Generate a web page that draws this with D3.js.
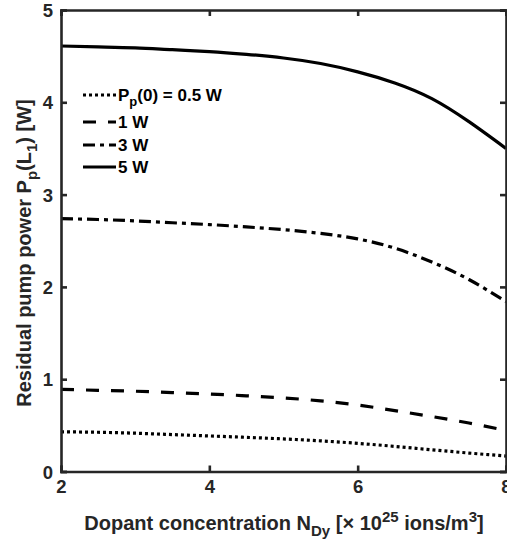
<!DOCTYPE html>
<html><head><meta charset="utf-8">
<script src="https://cdn.jsdelivr.net/npm/d3@7"></script>
<style>
html,body{margin:0;padding:0;background:#fff;overflow:hidden}
text{font-family:"Liberation Sans",Arial,sans-serif;font-weight:bold}
</style></head><body>
<svg id="c" width="507" height="545"></svg>
<script>
const xs = [2, 2.5, 3, 3.5, 4, 4.5, 5, 5.5, 6, 6.5, 7, 7.5, 8];
const p05 = [0.43, 0.425, 0.415, 0.40, 0.385, 0.37, 0.353, 0.332, 0.305, 0.272, 0.235, 0.200, 0.167];
const p1  = [0.89, 0.88, 0.87, 0.855, 0.84, 0.82, 0.797, 0.765, 0.72, 0.66, 0.595, 0.525, 0.445];
const p3  = [2.74, 2.73, 2.715, 2.695, 2.675, 2.65, 2.62, 2.58, 2.52, 2.42, 2.27, 2.08, 1.84];
const p5  = [4.61, 4.60, 4.59, 4.57, 4.55, 4.52, 4.48, 4.42, 4.33, 4.21, 4.04, 3.79, 3.50];
const xTicks = [2, 4, 6, 8];
const yTicks = [0, 1, 2, 3, 4, 5];
const seriesNames = ["0.5 W", "1 W", "3 W", "5 W"];
const dashes = ["3,3", "13,12", "12,5,4,5", null];

const svg = d3.select("#c");
const L = 61, R = 506, T = 10, B = 471.5;
const x = d3.scaleLinear().domain([2, 8]).range([L, R]);
const y = d3.scaleLinear().domain([0, 5]).range([B, T]);
const axisCol = "#262626";

svg.append("defs").append("clipPath").attr("id", "clip")
  .append("rect").attr("x", L).attr("y", T).attr("width", R - L).attr("height", B - T);

const line = d3.line().x(d => x(d[0])).y(d => y(d[1])).curve(d3.curveNatural);
const all = [p05, p1, p3, p5];
all.forEach((vals, i) => {
  svg.append("path")
    .attr("clip-path", "url(#clip)")
    .attr("d", line(xs.map((v, j) => [v, vals[j]])))
    .attr("fill", "none").attr("stroke", "#000").attr("stroke-width", 3.2)
    .attr("stroke-dasharray", dashes[i]);
});

// axes
const gx = svg.append("g").attr("transform", `translate(0,${B})`)
  .call(d3.axisBottom(x).tickValues(xTicks).tickSize(-6).tickPadding(8).tickFormat(d3.format("d")));
const gy = svg.append("g").attr("transform", `translate(${L},0)`)
  .call(d3.axisLeft(y).tickValues(yTicks).tickSize(-6).tickPadding(8).tickFormat(d3.format("d")));
const gt = svg.append("g").attr("transform", `translate(0,${T})`)
  .call(d3.axisTop(x).tickValues(xTicks).tickSize(-6).tickFormat(""));
const gr = svg.append("g").attr("transform", `translate(${R},0)`)
  .call(d3.axisRight(y).tickValues(yTicks).tickSize(-6).tickFormat(""));
[gx, gy, gt, gr].forEach(g => {
  g.select(".domain").attr("stroke", axisCol).attr("stroke-width", 2.6);
  g.selectAll(".tick line").attr("stroke", axisCol).attr("stroke-width", 2.6);
  g.selectAll(".tick text").attr("font-size", 18.5).attr("fill", axisCol)
    .style("font-family", '"Liberation Sans",Arial,sans-serif').style("font-weight", "bold");
});
gy.selectAll(".tick text").attr("dy", "0.36em");

// x label
const xl = svg.append("text").attr("x", 284).attr("y", 530).attr("text-anchor", "middle")
  .attr("font-size", 20).attr("fill", axisCol);
xl.append("tspan").text("Dopant concentration N");
xl.append("tspan").attr("font-size", 15).attr("dy", 6).text("Dy");
xl.append("tspan").attr("dy", -6).text(" [× 10");
xl.append("tspan").attr("font-size", 15).attr("dy", -8).text("25");
xl.append("tspan").attr("dy", 8).text(" ions/m");
xl.append("tspan").attr("font-size", 15).attr("dy", -8).text("3");
xl.append("tspan").attr("dy", 8).text("]");

// y label
const yl = svg.append("text").attr("transform", "translate(31,253) rotate(-90)").attr("text-anchor", "middle")
  .attr("font-size", 20).attr("fill", axisCol);
yl.append("tspan").text("Residual pump power P");
yl.append("tspan").attr("font-size", 15).attr("dy", 6).text("p");
yl.append("tspan").attr("dy", -6).text("(L");
yl.append("tspan").attr("font-size", 15).attr("dy", 6).text("1");
yl.append("tspan").attr("dy", -6).text(") [W]");

// legend
const legY = [95, 122, 145, 167];
seriesNames.forEach((n, i) => {
  svg.append("line").attr("x1", 83).attr("x2", 116).attr("y1", legY[i]).attr("y2", legY[i])
    .attr("stroke", "#000").attr("stroke-width", 3.2).attr("stroke-dasharray", dashes[i]);
  const t = svg.append("text").attr("x", 118).attr("y", legY[i] + 6).attr("font-size", 17).attr("fill", "#000");
  if (i === 0) {
    t.append("tspan").text("P");
    t.append("tspan").attr("font-size", 13).attr("dy", 5).text("p");
    t.append("tspan").attr("dy", -5).text("(0) = " + n);
  } else {
    t.text(n);
  }
});
</script>
</body></html>
